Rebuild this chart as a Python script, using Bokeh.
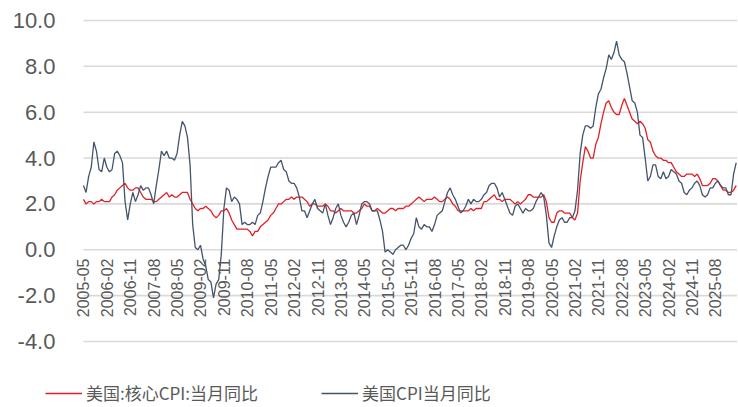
import math
from bokeh.plotting import figure
from bokeh.models import Range1d, Legend, LegendItem, ColumnDataSource
from bokeh.core.properties import value
from bokeh.embed import file_html
from bokeh.resources import INLINE

# Monthly data, 2005-05 .. 2026-04
core_cpi = [
    2.2, 2.0, 2.1, 2.1, 2.0, 2.1, 2.1, 2.2,                      # 2005 May-Dec
    2.1, 2.1, 2.1, 2.3, 2.4, 2.6, 2.7, 2.8, 2.9, 2.7, 2.6, 2.6,  # 2006
    2.7, 2.7, 2.5, 2.3, 2.2, 2.2, 2.2, 2.1, 2.1, 2.2, 2.3, 2.4,  # 2007
    2.5, 2.3, 2.4, 2.3, 2.3, 2.4, 2.5, 2.5, 2.5, 2.2, 2.0, 1.8,  # 2008
    1.7, 1.8, 1.8, 1.9, 1.8, 1.7, 1.5, 1.4, 1.5, 1.7, 1.7, 1.8,  # 2009
    1.6, 1.3, 1.1, 0.9, 0.9, 0.9, 0.9, 0.9, 0.8, 0.6, 0.8, 0.8,  # 2010
    1.0, 1.1, 1.2, 1.3, 1.5, 1.6, 1.8, 2.0, 2.0, 2.1, 2.2, 2.2,  # 2011
    2.3, 2.2, 2.3, 2.3, 2.3, 2.2, 2.1, 1.9, 2.0, 2.0, 1.9, 1.9,  # 2012
    1.9, 2.0, 1.9, 1.7, 1.7, 1.6, 1.7, 1.8, 1.7, 1.7, 1.7, 1.7,  # 2013
    1.6, 1.6, 1.7, 1.8, 2.0, 1.9, 1.9, 1.7, 1.7, 1.8, 1.7, 1.6,  # 2014
    1.6, 1.7, 1.8, 1.8, 1.7, 1.8, 1.8, 1.8, 1.9, 1.9, 2.0, 2.1,  # 2015
    2.2, 2.3, 2.2, 2.1, 2.2, 2.2, 2.2, 2.3, 2.2, 2.1, 2.1, 2.2,  # 2016
    2.3, 2.2, 2.0, 1.9, 1.7, 1.7, 1.7, 1.7, 1.7, 1.8, 1.7, 1.8,  # 2017
    1.8, 1.8, 2.1, 2.1, 2.2, 2.3, 2.4, 2.2, 2.2, 2.1, 2.2, 2.2,  # 2018
    2.2, 2.1, 2.0, 2.1, 2.0, 2.1, 2.2, 2.4, 2.4, 2.3, 2.3, 2.3,  # 2019
    2.3, 2.4, 2.1, 1.4, 1.2, 1.2, 1.6, 1.7, 1.7, 1.6, 1.6, 1.6,  # 2020
    1.4, 1.3, 1.6, 3.0, 3.8, 4.5, 4.3, 4.0, 4.0, 4.6, 4.9, 5.5,  # 2021
    6.0, 6.4, 6.5, 6.2, 6.0, 5.9, 5.9, 6.3, 6.6, 6.3, 6.0, 5.7,  # 2022
    5.6, 5.5, 5.6, 5.5, 5.3, 4.8, 4.7, 4.3, 4.1, 4.0, 4.0, 3.9,  # 2023
    3.9, 3.8, 3.8, 3.6, 3.4, 3.3, 3.2, 3.2, 3.3, 3.3, 3.3, 3.2,  # 2024
    3.3, 3.1, 2.8, 2.8, 2.8, 2.9, 3.1, 3.1, 3.0, 2.8, 2.6, 2.6,  # 2025
    2.5, 2.5, 2.6, 2.8,                                          # 2026 Jan-Apr
]

headline_cpi = [
    2.8, 2.5, 3.2, 3.6, 4.7, 4.3, 3.5, 3.4,                      # 2005 May-Dec
    4.0, 3.6, 3.4, 3.5, 4.2, 4.3, 4.1, 3.8, 2.1, 1.3, 2.0, 2.5,  # 2006
    2.1, 2.4, 2.8, 2.6, 2.7, 2.7, 2.4, 2.0, 2.8, 3.5, 4.3, 4.1,  # 2007
    4.3, 4.0, 4.0, 3.9, 4.2, 5.0, 5.6, 5.4, 4.9, 3.7, 1.1, 0.1,  # 2008
    0.0, 0.2, -0.4, -0.7, -1.3, -1.4, -2.1, -1.5, -1.3, -0.2, 1.8, 2.7,  # 2009
    2.6, 2.1, 2.3, 2.2, 2.0, 1.1, 1.2, 1.1, 1.1, 1.2, 1.1, 1.5,  # 2010
    1.6, 2.1, 2.7, 3.2, 3.6, 3.6, 3.6, 3.8, 3.9, 3.5, 3.4, 3.0,  # 2011
    2.9, 2.9, 2.7, 2.3, 1.7, 1.7, 1.4, 1.7, 2.0, 2.2, 1.8, 1.7,  # 2012
    1.6, 2.0, 1.5, 1.1, 1.4, 1.8, 2.0, 1.5, 1.2, 1.0, 1.2, 1.5,  # 2013
    1.6, 1.1, 1.5, 2.0, 2.1, 2.1, 2.0, 1.7, 1.7, 1.7, 1.3, 0.8,  # 2014
    -0.1, 0.0, -0.1, -0.2, 0.0, 0.1, 0.2, 0.2, 0.0, 0.2, 0.5, 0.7,  # 2015
    1.4, 1.0, 0.9, 1.1, 1.0, 1.0, 0.8, 1.1, 1.5, 1.6, 1.7, 2.1,  # 2016
    2.5, 2.7, 2.4, 2.2, 1.9, 1.6, 1.7, 1.9, 2.2, 2.0, 2.2, 2.1,  # 2017
    2.1, 2.2, 2.4, 2.5, 2.8, 2.9, 2.9, 2.7, 2.3, 2.5, 2.2, 1.9,  # 2018
    1.6, 1.5, 1.9, 2.0, 1.8, 1.6, 1.8, 1.7, 1.7, 1.8, 2.1, 2.3,  # 2019
    2.5, 2.3, 1.5, 0.3, 0.1, 0.6, 1.0, 1.3, 1.4, 1.2, 1.2, 1.4,  # 2020
    1.4, 1.7, 2.6, 4.2, 5.0, 5.4, 5.4, 5.3, 5.4, 6.2, 6.8, 7.0,  # 2021
    7.5, 7.9, 8.5, 8.3, 8.6, 9.1, 8.5, 8.3, 8.2, 7.7, 7.1, 6.5,  # 2022
    6.4, 6.0, 5.0, 4.9, 4.0, 3.0, 3.2, 3.7, 3.7, 3.2, 3.1, 3.4,  # 2023
    3.1, 3.2, 3.5, 3.4, 3.3, 3.0, 2.9, 2.5, 2.4, 2.6, 2.7, 2.9,  # 2024
    3.0, 2.8, 2.4, 2.3, 2.4, 2.7, 2.7, 2.9, 3.0, 2.8, 2.7, 2.7,  # 2025
    2.4, 2.4, 3.3, 3.8,                                          # 2026 Jan-Apr
]

tick_labels = [
    "2005-05", "2006-02", "2006-11", "2007-08", "2008-05", "2009-02", "2009-11",
    "2010-08", "2011-05", "2012-02", "2012-11", "2013-08", "2014-05", "2015-02",
    "2015-11", "2016-08", "2017-05", "2018-02", "2018-11", "2019-08", "2020-05",
    "2021-02", "2021-11", "2022-08", "2023-05", "2024-02", "2024-11", "2025-08",
]
tick_step = 9
y_ticks = [-4, -2, 0, 2, 4, 6, 8, 10]

series_names = ["美国:核心CPI:当月同比", "美国CPI当月同比"]
series_colors = ["#E31F26", "#44546A"]

n = len(core_cpi)
idx = list(range(n))
tick_idx = [i * tick_step for i in range(len(tick_labels))]

W, H = 737, 405
x_start, x_end = -31.9, 251.5
y_start, y_end = -6.79, 10.87

src = ColumnDataSource(dict(x=idx, core=core_cpi, head=headline_cpi))

p = figure(width=W, height=H, output_backend="svg", toolbar_location=None,
           x_range=Range1d(x_start, x_end), y_range=Range1d(y_start, y_end),
           x_axis_location=None, y_axis_location=None,
           min_border=0)
p.outline_line_color = None
p.background_fill_color = "white"
p.border_fill_color = "white"
p.grid.visible = False

text_color = "#595959"

# horizontal gridlines
p.segment(x0=[idx[0]] * len(y_ticks), x1=[x_end] * len(y_ticks), y0=y_ticks, y1=y_ticks,
          line_color="#D9D9D9", line_width=1.6)

# y tick labels
y_src = ColumnDataSource(dict(x=[idx[0]] * len(y_ticks), y=y_ticks,
                              t=["%.1f" % v for v in y_ticks]))
p.text(x="x", y="y", text="t", source=y_src, x_offset=-28,
       text_align="right", text_baseline="middle",
       text_font=value("Liberation Sans"), text_font_size="22px", text_color=text_color)

r_core = p.line("x", "core", source=src, line_color=series_colors[0], line_width=1.3)
r_head = p.line("x", "head", source=src, line_color=series_colors[1], line_width=1.3)

# x tick labels, vertical, hanging just below the zero line
xlabel_y = -0.38
tick_src = ColumnDataSource(dict(x=tick_idx, y=[xlabel_y] * len(tick_idx), t=tick_labels))
p.text(x="x", y="y", text="t", source=tick_src, angle=math.pi / 2,
       text_align="right", text_baseline="middle",
       text_font=value("Liberation Sans"), text_font_size="16px", text_color=text_color)

legend = Legend(items=[LegendItem(label=series_names[0], renderers=[r_core]),
                       LegendItem(label=series_names[1], renderers=[r_head])],
                location=(45, 0), orientation="horizontal",
                glyph_width=37, glyph_height=20, label_standoff=4, spacing=63,
                padding=0, margin=0,
                label_text_font="Noto Sans CJK SC", label_text_font_size="17px",
                label_text_color=text_color,
                border_line_color=None, background_fill_alpha=0)
p.add_layout(legend)

open("out.html", "w").write(file_html(p, INLINE))
